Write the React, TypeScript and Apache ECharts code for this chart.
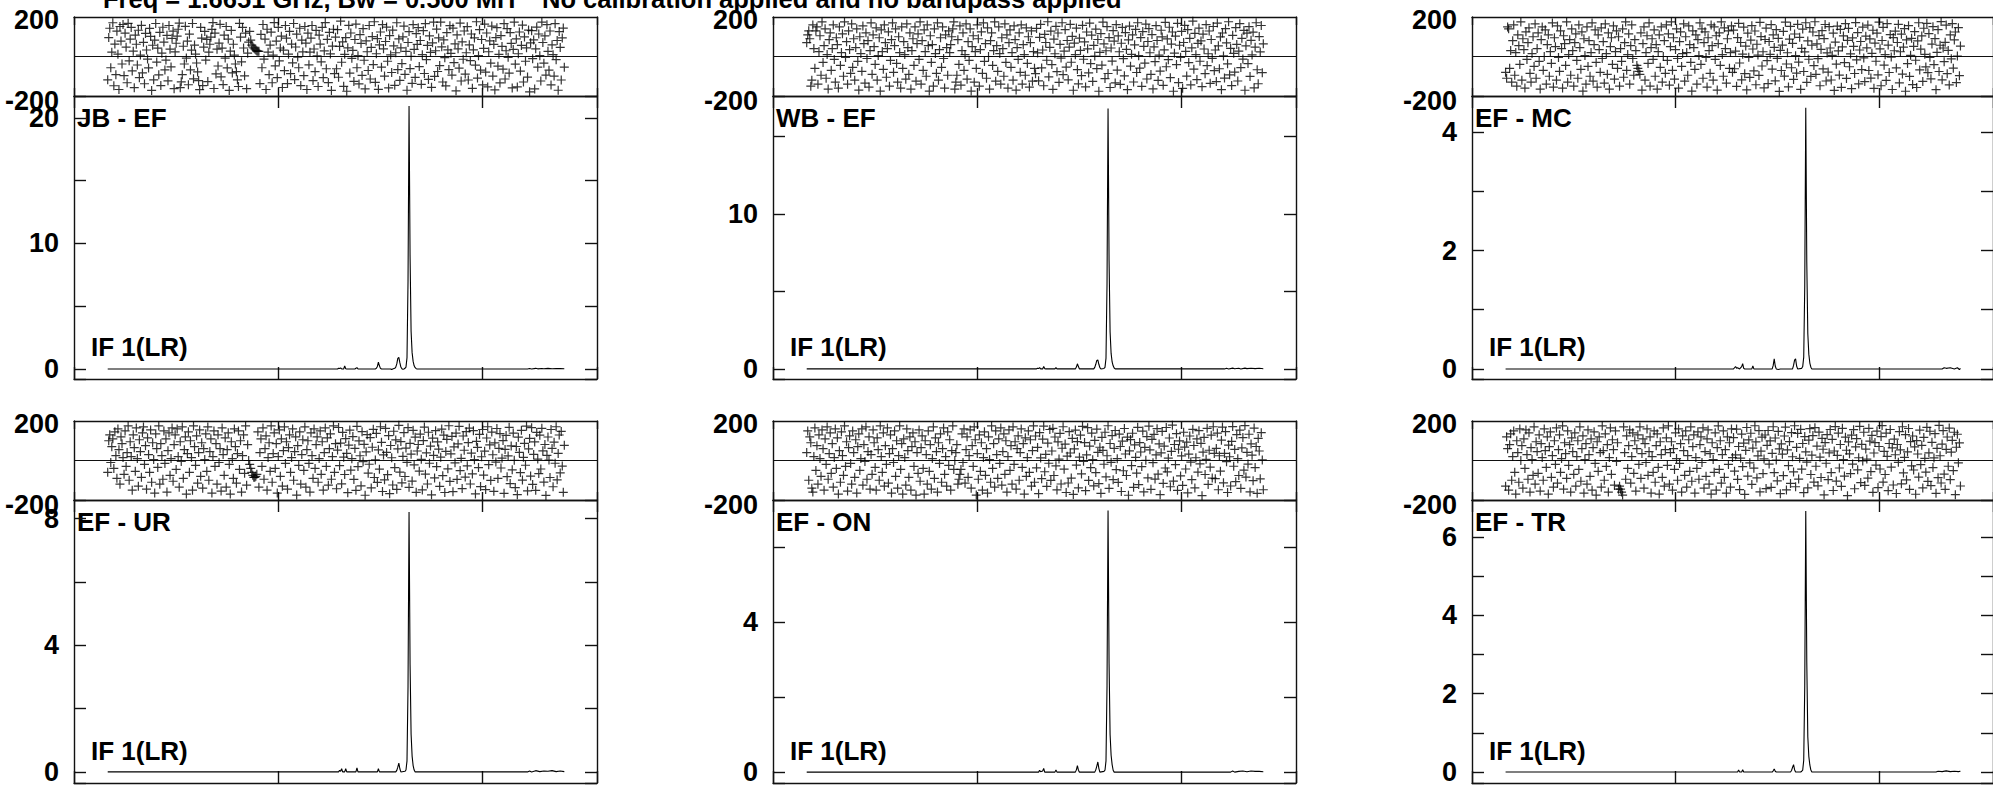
import React, { useEffect, useRef } from 'react';
import * as echarts from 'echarts';

// ---------------- data ----------------
const TITLE_PART1 = 'Freq = 1.6651 GHz, Bw = 0.500 MH';
const TITLE_PART2 = 'No calibration applied and no bandpass applied';
const BASELINES = ['JB - EF', 'WB - EF', 'EF - MC', 'EF - UR', 'EF - ON', 'EF - TR'];
const IF_LABEL = 'IF 1(LR)';
const FIRST_CHANNEL = 33;
const CHANNEL_AXIS = [0, 512];
const CHANNEL_TICK = 200;
const PHASE_AXIS = [-200, 200];
const PHASE_TICK = 200;

// phase (degrees) per channel, channels 33..480
const JB_EF_PHASE = [
  -118, 96, 143, -57, 22, 171, -148, 63, -92, 128, 12, -167, 152, 78, -38, 162,
  -97, 118, 47, -133, 168, -22, 88, 147, -73, 27, -158, 108, 62, -43, 133, -107,
  7, 158, -83, 72, -138, 117, 33, -13, -58, 142, 102, -172, 57, -118, 83, 167,
  -28, 42, -93, 122, -147, 17, 148, 73, -68, -18, 107, -123, 157, 37, -53, 92,
  128, -163, 23, 67, 103, 138, 169, -158, -128, -92, 52, -38, 153, -8, 78, -143,
  113, -68, 32, 167, -113, 58, 12, -33, -78, -122, -168, 147, 93, -147, 47, 127,
  -18, 87, -127, 22, 62, 98, 137, 172, -162, 118, -88, 37, -48, 68, 163, -103,
  42, -142, 108, -8, 152, -58, 88, -172, 27, 132, -83, 62, 7, -38, -77, -118,
  -152, 168, 98, -27, 147, 43, -98, 118, -163, 17, 73, 127, 83, 58, 48, 43,
  38, 33, 28, 27, 26, -137, 112, -57, 162, -13, 88, -167, 138, 22, -92, 58,
  123, -133, 7, 172, -47, 78, -107, 147, -22, 43, 103, -157, 32, -72, 157, 93,
  -137, 12, 127, -87, 63, -32, 167, -117, 48, 113, -3, -57, 143, -147, 83, 23,
  -97, 152, 68, -167, 118, -42, 22, 93, 157, -122, 38, -77, 132, 3, -152, 108,
  63, -27, 147, -107, 28, 172, -62, 87, -132, 122, 13, -172, 53, 138, -87, 98,
  -62, 136, -105, 51, 179, -29, 74, -151, 11, 96, -176, 44, 158, -84, 119, -9,
  31, -126, 86, 164, -57, 4, -139, 111, 66, -96, 141, -19, -164, 79, 24, -71,
  157, -114, 46, 101, -41, 176, -131, 14, 91, -166, 59, 124, -54, 161, 39, -99,
  76, 149, -24, -159, 106, 8, -81, 134, 54, -146, 19, 171, -66, 89, -121, 44,
  -36, 99, 154, -91, 26, -171, 71, 126, -61, 1, -136, 161, 36, -106, 116, 61,
  146, -51, 81, -141, 9, 131, -86, 166, -16, 56, -116, 104, 21, -156, 69, 174,
  -101, 29, 139, -76, 94, -46, 174, 49, -129, 84, -6, -149, 121, 34, -66, 156,
  16, -94, 144, -31, 64, -174, 109, 39, -59, 169, -124, 74, -14, 129, -89, 19,
  151, -119, 59, -21, 114, -161, 34, 94, -44, 176, -109, 4, 136, -69, 86, -144,
  41, 164, -79, 119, -154, 24, 79, -34, 154, -99, 61, -169, 96, 146, -49, 11,
  -134, 106, 51, -64, 166, -114, 29, 141, -4, -84, 121, 66, -159, 36, 174, -39,
  89, -154, 14, 124, -74, 56, 159, -129, 99, -24, 44, -104, 134, -179, 69, 131,
  -11, 84, -164, 39, 149, -54, 114, 4, -124, 174, 71, -34, 104, -94, 161, 26,
  -69, 129, -144, 59, 9, -99, 166, -16, 81, -171, 126, 46, -119, 94, 144, -54,
];
const WB_EF_PHASE = [
  70, 110, 130, 90, -150, -120, 160, 40, -60, 130, 150, -140, 25, 105, -95, 175,
  -30, 55, 140, -110, 10, -165, 85, 120, -70, 40, 160, -15, -130, 95, 60, -160,
  150, -45, 20, 115, -100, 175, -5, 75, -140, 130, 35, -85, 165, -55, 90, -120,
  45, 140, -25, -170, 100, 15, -75, 155, 65, -135, 120, -10, 80, -155, 30, 170,
  -90, 110, 50, -40, 145, -120, 5, 95, -175, 135, 25, -65, 160, 70, -105, 40,
  125, -150, -20, 85, 170, -80, 55, 140, -35, -130, 100, 20, -160, 150, -60, 75,
  10, -115, 165, 45, -90, 120, -165, 30, 90, -45, 150, -125, 65, 115, -15, 175,
  -140, 80, -70, 135, 25, -100, 160, 55, -175, 105, -30, 60, -150, 140, 15, -85,
  170, -120, 35, 95, -55, 150, -10, -160, 110, 45, -95, 130, 20, 60, 100, 140,
  175, -165, -130, -95, 85, -40, 155, -145, 30, 120, -70, 10, 165, -115, 75, -20,
  140, -175, 50, 105, -130, 25, -60, 160, 90, -150, 35, 125, -85, 170, -25, 65,
  -110, 145, 0, -165, 80, 120, -45, 30, 175, -125, 55, -75, 150, 15, -140, 95,
  40, -100, 165, -30, 110, -160, 70, 135, -55, 20, -120, 155, 85, -170, 45, -15,
  120, -80, 160, -140, 60, 10, -95, 145, -35, 100, -155, 70, 130, -125, 25, -60,
  -87, 142, 18, -123, 97, 163, -58, 33, -148, 112, 71, -19, 176, -103, 46, 128,
  -41, -166, 88, 14, 153, -77, 119, -131, 61, -8, 171, -92, 27, 136, -54, 81,
  -118, 47, 163, -29, 102, -171, 68, 9, 144, -66, -139, 93, 31, -97, 158, -14,
  74, -154, 124, 39, -83, 169, -36, 108, -126, 56, 2, 139, -61, 86, -176, 21,
  116, -44, 174, 64, -112, 29, 151, -86, 96, -157, 43, -23, 131, 78, -134, 161,
  -69, 104, 24, -141, 67, 147, -11, -98, 121, 36, -168, 84, 154, -49, 11, 109,
  -129, 59, 137, -81, 171, 4, -59, 96, -151, 126, 51, -34, 164, -114, 76, 141,
  19, -91, 111, -164, 49, -26, 156, 81, -121, 7, -74, 133, 99, -146, 34, 173,
  -52, 89, -16, 148, -107, 63, 124, -176, 17, 103, -41, 168, -132, 57, -4, 127,
  -161, 71, 158, 26, -99, 136, -31, 92, -144, 44, 179, -64, 117, 9, -117, 66,
  144, -24, 79, -153, 113, 38, -87, 161, -46, 14, 129, -136, 86, -9, 152, -72,
  33, -127, 169, 54, -62, 99, -168, 119, 3, -109, 141, 69, -37, 176, -93, 41,
  -147, 107, 16, -79, 146, 61, -124, 27, 166, -56, 92, -13, 132, -171, 54, 118,
  -36, 151, -101, 82, 8, 123, -159, 47, 171, -67, -138, 101, 23, 157, -82, 64,
];
const EF_MC_PHASE = [
  -80, -110, 150, 140, -60, 30, -130, 80, 160, -95, 20, -150, 110, 55, -40, 175,
  -120, 90, 35, -160, 125, -15, 70, 145, -85, -130, 15, 100, -50, 165, -110, 40,
  120, -25, -165, 85, 150, -70, 0, 135, -140, 60, 110, -100, 25, -35, 170, -155,
  95, 50, -120, 155, -5, -75, 130, 40, -160, 105, 65, -45, 175, -130, 10, 85,
  -95, 140, 30, -150, 70, 115, -20, -110, 160, 45, -65, 125, -175, 90, 5, -140,
  150, -50, 80, -100, 20, 170, -125, 60, 135, -30, -155, 110, 35, -80, 145, -10,
  75, -135, 165, 15, -90, 120, -165, 50, 95, -40, 155, -115, 25, 130, -60, 100,
  -150, 40, -25, 140, -105, 70, 175, -70, 10, 115, -140, 55, 160, -10, -95, 85,
  30, -45, -60, -75, -90, 120, -170, 65, 150, -120, 20, 105, -35, 170, -150, 45,
  90, -15, 135, -100, 60, -165, 25, 110, -55, 150, -130, 0, 80, -85, 160, -20,
  115, -145, 50, 175, -70, 95, -115, 35, 140, -10, -160, 75, 125, -50, 15, 165,
  -125, 100, 20, -95, 155, 60, -30, -175, 130, 45, -65, 110, -140, 85, 5, 170,
  -40, 140, -110, 70, 125, -5, -155, 95, 30, -85, 160, 55, -120, 150, -15, 105,
  -170, 65, 120, -45, 175, 10, -100, 145, 40, -135, 90, 130, -60, 20, 155, -80,
  134, -62, 27, -151, 96, 168, -33, 71, -118, 12, 149, -87, 53, -169, 118, -4,
  -106, 83, 156, 38, -73, 129, -143, 62, 7, -96, 173, 101, -48, 24, -159, 86,
  144, -21, -137, 76, 11, 161, -64, 109, 46, -123, 136, -9, 92, -177, 31, -71,
  58, 127, -99, 174, -38, 19, -154, 88, 153, -57, 66, -116, 114, 4, -84, 163,
  -28, 97, -166, 41, 139, -76, 23, 171, -131, 79, -14, 146, -101, 57, 124, -46,
  176, -91, 64, -11, 106, -148, 36, 131, -63, 91, 162, -124, 18, -79, 151, 43,
  -119, 6, 118, -172, 73, -39, 154, 28, -94, 137, -156, 49, 104, -31, 166, -111,
  82, 142, -52, 13, -163, 94, 51, -86, 172, -17, 121, -139, 33, 76, -66, 149,
  -7, -127, 103, 44, 159, -71, 89, -109, 16, 133, -161, 68, -24, 118, -93, 174,
  39, -148, 81, 147, -44, 9, -121, 166, 58, -81, 111, -3, -167, 96, 29, 128,
  -58, 71, 163, -134, 24, 113, -89, 47, 141, -176, 84, -36, 156, -101, 6, 92,
  -142, 51, 126, -19, -157, 79, 171, -68, 37, 104, -126, 143, 11, -53, 168, -82,
  116, -4, -113, 63, 151, -41, 91, -168, 21, 136, -76, 57, 177, -118, 43, -26,
  72, 159, -87, 31, -144, 109, -12, 166, -59, 84, 124, -132, 2, 146, -97, 53,
];
const EF_UR_PHASE = [
  -60, 100, 130, -10, 70, 110, -40, 145, 25, -90, 160, 55, -120, 120, 85, 15,
  -70, 150, -30, 40, 175, -100, 95, 20, -150, 130, 65, -55, 165, 10, -130, 105,
  45, -85, 140, 170, -20, 75, -145, 115, 30, -60, 155, -110, 90, 5, -165, 135,
  60, -35, 175, -120, 85, 25, -95, 150, -15, 110, -160, 50, 140, -75, 10, 165,
  -105, 80, 130, -45, 160, 20, -135, 95, -5, 170, -90, 55, 120, -170, 35, 145,
  -60, 100, 15, -150, 175, 70, -25, 125, -115, 40, 155, -80, 90, -140, 60, 5,
  135, -55, 170, -100, 45, 110, -165, 20, 150, -30, 85, -120, 130, -10, 60, -155,
  165, 30, -75, 115, -135, 55, 140, -20, -170, 95, 10, -90, 160, 70, -115, 35,
  150, -45, 100, -160, 25, 130, -65, 175, -125, 80, 0, -20, -40, -60, -75, -85,
  -85, -80, -70, 145, -135, 40, 110, -30, 165, -95, 60, 125, -150, 15, 90, -55,
  175, -110, 35, 140, -40, 85, -165, 20, 155, -80, 110, -130, 50, 170, -15, 95,
  -145, 65, 130, -60, 15, 160, -100, 45, 120, -175, 75, -25, 145, -120, 30, 105,
  -50, 170, -135, 55, 100, -15, -160, 140, 25, -90, 160, -40, 80, 120, -110, 10,
  150, -70, 95, -150, 40, 165, -30, 115, -125, 60, 135, -95, 20, 175, -60, 85,
  -143, 53, 167, -26, 88, -118, 142, 17, -71, 111, 36, -163, 78, 154, -49, 9,
  121, -96, 61, -151, 173, -31, 99, 24, -128, 146, -6, 82, -176, 44, 131, -64,
  -19, 116, -139, 67, 158, -86, 3, 137, -111, 54, -44, 171, 92, -157, 28, -98,
  163, 41, -72, 126, -168, 76, 14, -124, 148, -36, 104, -146, 59, 178, -59, 96,
  -113, 21, 141, -81, 63, -9, 166, -136, 87, 32, -104, 153, -22, 118, -161, 48,
  81, -54, 134, 6, -149, 101, 169, -69, 39, -119, 143, -14, 73, -174, 113, 26,
  -88, 151, -31, 94, 58, -131, 17, 159, -77, 128, -162, 46, 107, -42, 176, -106,
  34, 122, -158, 69, -12, 139, -96, 84, 173, -51, 11, -142, 124, 52, -84, 146,
  -27, 91, 164, -119, 37, -68, 151, 4, -169, 97, 66, -36, 132, -132, 19, 157,
  -74, 47, -147, 114, 171, -21, 79, -101, 144, 29, -156, 89, -8, 162, -91, 61,
  136, -38, 12, 101, -166, 56, 127, -82, 23, 168, -117, 74, -47, 139, 1, -137,
  71, -173, 118, 41, -61, 153, -99, 16, 87, -24, 174, -154, 59, 112, -79, 166,
  -121, 31, 94, -151, 142, 7, -66, 128, -43, 163, 49, -109, 81, -177, 26, 119,
  2, -86, 157, 61, -133, 93, -14, 171, -98, 36, 129, -63, 147, -28, -161, 77,
];
const EF_ON_PHASE = [
  40, 150, -100, 120, 90, -140, -160, 20, 165, -50, 75, -120, 130, 10, -80, 155,
  60, -150, 110, -20, 170, -95, 35, 140, -65, 85, -135, 15, 160, -40, 115, -170,
  50, -110, 145, 25, -75, 175, -30, 95, -155, 65, 125, -15, -120, 150, 40, -85,
  105, -165, 70, 135, -50, 10, 160, -125, 80, -5, 170, -95, 45, 120, -145, 30,
  -70, 155, 90, -35, -150, 115, 55, -100, 175, 20, -60, 140, -130, 75, -20, 165,
  -115, 35, 130, -165, 60, -10, 150, -80, 100, -140, 25, 175, -45, 85, -170, 110,
  15, -125, 160, 50, -85, 120, -150, 70, 140, -30, 95, -175, 40, -65, 155, -105,
  65, 125, -40, -170, 100, 30, -120, 150, -55, 80, -145, 10, 170, -90, 115, 45,
  -160, 90, -15, 135, -110, 60, 165, -70, 20, -130, 145, -25, 105, -150, 50, 175,
  -45, 0, 40, 80, -120, -95, -70, -45, 135, -10, 160, -115, 55, 120, -85, 25,
  155, -140, 75, -30, 170, 105, -175, 35, -95, 130, -55, 90, -150, 15, 145, -75,
  60, -165, 120, 5, -110, 175, -40, 85, -135, 150, 30, -90, 110, -15, 165, -125,
  45, 135, -70, 100, -160, 20, 155, -50, 75, -120, 170, -20, 95, -145, 60, 125,
  -100, 40, 160, -35, 85, -170, 115, -80, 15, 150, -60, 105, -130, 50, 175, -110,
  124, -37, 66, -168, 141, 13, -92, 108, 174, -57, 31, -131, 88, -14, 157, -101,
  48, 163, -76, 119, -27, -149, 94, 7, 137, -119, 62, 171, -44, 83, -162, 22,
  -114, 146, 38, -89, 112, -172, 59, 154, -23, 96, -139, 17, 128, -68, 173, -4,
  91, -153, 28, 166, -101, 73, -36, 139, 4, -128, 102, -61, 159, 41, -117, 67,
  -166, 117, 51, -19, 143, -83, 24, 176, -141, 86, -9, 126, -97, 61, 152, -46,
  9, -111, 134, 71, -157, 98, -52, 162, 33, -76, 118, -176, 49, 106, -26, 138,
  -136, 79, 16, -64, 168, -122, 91, 43, -31, 149, -159, 66, 1, 121, -88, 174,
  54, -146, 107, -11, 132, -94, 28, 161, -69, 84, -173, 39, 147, -116, 73, -38,
  167, -58, 12, 114, -133, 46, 179, -104, 81, -21, 136, -151, 57, 99, -78, 23,
  -126, 143, 68, -43, 93, -164, 32, 124, -8, -97, 158, 76, -139, 14, 109, -59,
  151, -17, 87, -178, 42, 117, -71, 6, 163, -121, 52, -34, 128, -89, 171, 36,
  -92, 61, 139, -148, 24, -54, 103, 169, -113, 36, 146, -6, -162, 78, 19, -129,
  97, 172, -29, 56, -107, 131, 9, -76, 154, -141, 64, 116, -49, 177, -84, 41,
  -18, 133, -159, 84, 27, -102, 164, -36, 71, -166, 112, 48, -93, 141, 3, -148,
];
const EF_TR_PHASE = [
  -130, 120, 60, -150, 80, 135, -100, 20, 150, -60, -170, 100, 40, -110, 160, 0,
  75, -140, 110, -40, 155, 30, -95, 140, -160, 65, 5, -75, 170, -120, 95, 45,
  -65, 130, -155, 85, 15, -100, 160, 50, -35, 120, -170, 70, 145, -85, 25, -135,
  100, -20, 165, -115, 55, 130, -60, 10, 175, -145, 90, 35, -90, 150, -25, 80,
  -160, 115, 45, -70, 140, -130, 20, 100, -45, 170, -105, 60, 125, -165, 5, 85,
  -120, 155, 30, -80, 110, -150, 65, 145, -15, -175, 95, -55, 120, 40, -135, 175,
  50, -100, 135, -30, 80, -160, 15, 165, -70, 105, 55, -125, 150, -5, 90, -145,
  -130, -145, -160, -175, 170, 40, -95, 125, -40, 75, 155, -115, 20, 140, -65, 100,
  -155, 60, 130, -20, 170, -90, 35, 110, -140, 85, -10, 160, -75, 45, 120, -165,
  20, -60, 150, -110, 75, 135, -35, -170, 95, 30, -85, 165, -130, 55, 115, -25,
  175, -120, 40, 95, -150, 60, -45, 140, 10, -100, 160, -15, 85, -160, 125, 50,
  -75, 150, -135, 25, 105, -55, 170, -105, 70, 130, -165, 15, -40, 145, -95, 80,
  120, -10, 165, -140, 45, -80, 110, 155, -120, 35, -170, 90, 5, -60, 140, -150,
  65, 175, -45, 100, -115, 30, 150, -85, 55, -165, 120, -20, 90, -135, 160, 15,
  116, -54, 28, 159, -96, 71, -147, 12, 134, -31, 88, -172, 51, 167, -79, 104,
  -12, 138, -121, 63, -39, 176, 94, -88, 23, 151, -159, 47, 118, -66, 8, 129,
  -142, 77, 152, -18, 99, -136, 36, 171, -61, 114, 2, -103, 147, 59, -168, 84,
  32, -77, 124, 169, -149, 54, -26, 96, -116, 141, 19, -58, 176, -133, 66, 137,
  -94, 11, 158, -44, 86, -163, 121, 44, -8, -139, 103, 161, -71, 27, 126, -109,
  166, -29, 73, -128, 144, 17, -86, 112, 57, -174, 91, -14, 131, -97, 39, 157,
  -61, 107, -152, 48, 172, -104, 26, 139, -38, 81, -131, 163, 4, -79, 118, 52,
  -178, 94, 34, -66, 128, -18, 156, -143, 69, 111, -47, 14, 173, -112, 82, -2,
  143, -126, 58, 7, -89, 163, 98, -56, 127, -161, 38, 91, -23, 149, -137, 71,
  -43, 121, 177, -109, 46, -71, 139, 21, -153, 86, 157, -34, 64, -124, 108, 29,
  -167, 81, -9, 146, 54, -118, 171, -63, 16, 131, -98, 44, 162, -146, 96, -27,
  124, -48, 69, -171, 101, 33, -84, 154, -21, 77, -139, 117, 11, -59, 168, -106,
  39, 148, -127, 92, -36, 13, 136, -166, 61, -87, 178, 24, -114, 83, 151, -69,
  -146, 56, 119, -29, 164, -97, 42, 102, -51, 143, -173, 67, 133, -12, 89, -129,
];

// amplitude spectra as [channel, amplitude]
const JB_EF_AMP = [
  [33, 0], [258, 0], [259, 0.06], [260, 0.03], [261, 0.08], [262, 0], [264, 0], [265, 0.25], [266, 0.02], [267, 0],
  [275, 0], [276, 0.05], [277, 0.1], [278, 0], [295, 0], [296, 0.05], [297, 0.2], [298, 0.55], [299, 0.25], [300, 0.05],
  [301, 0], [310, 0], [311, -0.05], [312, 0], [314, 0.05], [315, 0.15], [316, 0.4], [317, 0.85], [318, 0.93], [319, 0.5],
  [320, 0.15], [321, 0.02], [322, -0.03], [323, 0], [324, 0.05], [325, 0.15], [326, 0.9], [327, 7], [328, 20.95], [329, 9],
  [330, 3], [331, 1.3], [332, 0.6], [333, 0.25], [334, 0.1], [335, 0.02], [336, 0], [444, 0], [446, 0.04], [448, 0],
  [452, 0.05], [454, 0.01], [458, 0.04], [460, 0.02], [464, 0.05], [468, 0.02], [472, 0.04], [476, 0.03], [480, 0.02],
];
const WB_EF_AMP = [
  [33, 0], [258, 0], [259, 0.05], [260, 0.02], [261, 0.08], [262, 0], [264, 0], [265, 0.15], [266, 0.02], [267, 0],
  [276, 0], [277, 0.08], [278, 0], [296, 0], [297, 0.12], [298, 0.33], [299, 0.15], [300, 0], [314, 0], [315, 0.1],
  [316, 0.3], [317, 0.55], [318, 0.58], [319, 0.3], [320, 0.08], [321, 0], [324, 0.03], [325, 0.1], [326, 0.7], [327, 5.5],
  [328, 16.8], [329, 7], [330, 2.4], [331, 1.0], [332, 0.45], [333, 0.2], [334, 0.06], [335, 0], [442, 0], [444, 0.04],
  [446, 0], [450, 0.05], [452, 0.01], [456, 0.04], [458, 0], [462, 0.05], [464, 0.02], [468, 0.04], [472, 0.02], [476, 0.04], [480, 0.01],
];
const EF_MC_AMP = [
  [33, 0], [257, 0], [258, 0.02], [259, 0.04], [260, 0.01], [261, 0.02], [263, 0], [265, 0.04], [266, 0.09], [267, 0.01],
  [268, 0], [275, 0], [276, 0.05], [277, 0], [295, 0], [296, 0.06], [297, 0.17], [298, 0.05], [299, 0], [301, -0.01],
  [303, 0], [315, 0], [316, 0.06], [317, 0.15], [318, 0.17], [319, 0.05], [320, 0], [324, 0.01], [325, 0.04], [326, 0.2],
  [327, 1.4], [328, 4.41], [329, 1.8], [330, 0.6], [331, 0.25], [332, 0.1], [333, 0.03], [334, 0], [462, 0], [464, 0.02],
  [466, 0.01], [470, 0.02], [474, 0], [477, 0.02], [479, -0.01], [480, 0.01],
];
const EF_UR_AMP = [
  [33, 0], [259, 0], [260, 0.05], [261, 0.02], [262, 0.1], [263, 0], [265, 0], [266, 0.1], [267, 0], [276, 0],
  [277, 0.13], [278, 0], [297, 0], [298, 0.1], [299, 0], [315, 0], [316, 0.05], [317, 0.15], [318, 0.28], [319, 0.1],
  [320, 0], [324, 0.02], [325, 0.06], [326, 0.35], [327, 2.7], [328, 8.21], [329, 3.4], [330, 1.2], [331, 0.5], [332, 0.2],
  [333, 0.06], [334, 0], [444, 0], [446, 0.03], [448, 0], [452, 0.04], [456, 0.01], [460, 0.03], [464, 0.02], [468, 0.04],
  [472, 0.01], [476, 0.03], [480, 0.01],
];
const EF_ON_AMP = [
  [33, 0], [260, 0], [261, 0.05], [262, 0.01], [264, 0.03], [265, 0.1], [266, 0], [276, 0], [277, 0.06], [278, 0],
  [296, 0], [297, 0.06], [298, 0.17], [299, 0.05], [300, 0], [315, 0], [316, 0.06], [317, 0.16], [318, 0.27], [319, 0.1],
  [320, 0], [324, 0.02], [325, 0.05], [326, 0.3], [327, 2.3], [328, 6.97], [329, 2.9], [330, 1.0], [331, 0.45], [332, 0.2],
  [333, 0.05], [334, 0], [448, 0], [450, 0.03], [452, 0], [456, 0.02], [460, 0.03], [464, 0.01], [468, 0.03], [472, 0.02],
  [476, 0.02], [480, 0.01],
];
const EF_TR_AMP = [
  [33, 0], [261, 0], [262, 0.05], [263, 0], [265, 0], [266, 0.06], [267, 0], [295, 0], [296, 0.03], [297, 0.08],
  [298, 0.02], [299, 0], [313, 0], [314, 0.04], [315, 0.12], [316, 0.19], [317, 0.06], [318, 0], [323, 0], [324, 0.02],
  [325, 0.05], [326, 0.3], [327, 2.2], [328, 6.66], [329, 2.8], [330, 0.9], [331, 0.4], [332, 0.18], [333, 0.05], [334, 0],
  [456, 0], [458, 0.02], [462, 0.01], [466, 0.03], [470, 0.01], [474, 0.02], [478, 0.01], [480, 0.02],
];

const PHASES = [JB_EF_PHASE, WB_EF_PHASE, EF_MC_PHASE, EF_UR_PHASE, EF_ON_PHASE, EF_TR_PHASE];
const AMPS = [JB_EF_AMP, WB_EF_AMP, EF_MC_AMP, EF_UR_AMP, EF_ON_AMP, EF_TR_AMP];
const AMP_MIN = [-0.8, -0.65, -0.17, -0.35, -0.29, -0.28];
const AMP_MAX = [21.75, 17.6, 4.61, 8.59, 7.25, 6.94];
const AMP_TICK_STEP = [5, 5, 1, 2, 2, 1];
const AMP_LABEL_STEP = [10, 10, 2, 4, 4, 2];

// ---------------- layout ----------------
const COL_LEFT = [74, 773, 1472];
const PANEL_W = 523;
const PHASE_TOP = [17, 421];
const PHASE_H = 79;
const AMP_TOP = [96, 500];
const AMP_H = 283;
const FONT = '"Liberation Sans", Arial, Helvetica, sans-serif';
const FRAME = { color: '#111', width: 1.4 };
const PLUS = 'path://M5,0L5,10M0,5L10,5';

function xAxisCfg(gridIndex: number, position: string, tickLen: number) {
  return {
    type: 'value', gridIndex, position,
    min: CHANNEL_AXIS[0], max: CHANNEL_AXIS[1], interval: CHANNEL_TICK,
    axisLine: { show: true, onZero: false, lineStyle: FRAME },
    axisTick: { show: true, inside: true, length: tickLen, lineStyle: FRAME },
    axisLabel: { show: false },
    splitLine: { show: false },
  };
}

function labelStyle() {
  return { fontSize: 27, fontWeight: 'bold', fontFamily: FONT, color: '#000' };
}

function textStyle(text: string, size: number) {
  return {
    text, fill: '#000', font: `bold ${size}px ${FONT}`,
    textAlign: 'left', textVerticalAlign: 'middle', align: 'left', verticalAlign: 'middle',
  };
}

function buildOption() {
  const grid: any[] = [];
  const xAxis: any[] = [];
  const yAxis: any[] = [];
  const series: any[] = [];
  const graphic: any[] = [];

  for (let i = 0; i < 6; i++) {
    const c = i % 3;
    const r = Math.floor(i / 3);
    const left = COL_LEFT[c];
    const gP = 2 * i;
    const gA = 2 * i + 1;
    grid.push({ left, top: PHASE_TOP[r], width: PANEL_W, height: PHASE_H, containLabel: false });
    grid.push({ left, top: AMP_TOP[r], width: PANEL_W, height: AMP_H, containLabel: false });

    xAxis.push(xAxisCfg(gP, 'bottom', 8));
    xAxis.push(xAxisCfg(gP, 'top', 8));
    for (const pos of ['left', 'right']) {
      yAxis.push({
        type: 'value', gridIndex: gP, position: pos,
        min: PHASE_AXIS[0], max: PHASE_AXIS[1], interval: PHASE_TICK,
        axisLine: { show: true, onZero: false, lineStyle: FRAME },
        axisTick: { show: false },
        axisLabel: {
          show: pos === 'left', margin: 15, ...labelStyle(),
          formatter: (v: number) => (v === 0 ? '' : v < 0 ? `{lo|${v}}` : `{hi|${v}}`),
          rich: {
            hi: { ...labelStyle(), padding: [6, 0, 0, 0] },
            lo: { ...labelStyle(), padding: [10, 0, 0, 0] },
          },
        },
        splitLine: { show: pos === 'left', lineStyle: { color: '#111', width: 1.2 } },
      });
    }
    xAxis.push(xAxisCfg(gA, 'bottom', 12));
    xAxis.push(xAxisCfg(gA, 'top', 12));
    const step = AMP_TICK_STEP[i];
    const lstep = AMP_LABEL_STEP[i];
    for (const pos of ['left', 'right']) {
      yAxis.push({
        type: 'value', gridIndex: gA, position: pos,
        min: AMP_MIN[i], max: AMP_MAX[i], minInterval: step, maxInterval: step, splitNumber: 5,
        axisLine: { show: true, onZero: false, lineStyle: FRAME },
        axisTick: { show: true, inside: true, length: 12, lineStyle: FRAME },
        axisLabel: {
          show: pos === 'left', margin: 15, ...labelStyle(),
          showMinLabel: true, showMaxLabel: true,
          formatter: (v: number) => {
            if (v < -1e-9) return '';
            const q = v / lstep;
            return Math.abs(q - Math.round(q)) < 1e-6 ? String(Math.round(v)) : '';
          },
        },
        splitLine: { show: false },
      });
    }

    series.push({
      type: 'scatter', xAxisIndex: 2 * gP, yAxisIndex: 2 * gP, silent: true,
      symbol: PLUS, symbolSize: 9,
      itemStyle: { color: 'rgba(0,0,0,0)', borderColor: '#000', borderWidth: 1.2 },
      data: PHASES[i].map((p, k) => [FIRST_CHANNEL + k, p]),
    });
    series.push({
      type: 'line', xAxisIndex: 2 * gA, yAxisIndex: 2 * gA, silent: true,
      showSymbol: false, symbol: 'none',
      lineStyle: { color: '#000', width: 1.1 },
      data: AMPS[i],
    });

    graphic.push({ type: 'text', x: left + 3, y: AMP_TOP[r] + 22, style: textStyle(BASELINES[i], 26) });
    graphic.push({ type: 'text', x: left + 17, y: AMP_TOP[r] + 251, style: textStyle(IF_LABEL, 26) });
  }

  graphic.push({ type: 'text', x: 103, y: -1.5, style: textStyle(TITLE_PART1, 25.5) });
  graphic.push({ type: 'text', x: 542, y: -1.5, style: textStyle(TITLE_PART2, 25.5) });

  return {
    animation: false,
    backgroundColor: '#ffffff',
    grid, xAxis, yAxis, series, graphic,
  };
}

export default function App() {
  const ref = useRef<HTMLDivElement>(null);
  useEffect(() => {
    const chart = echarts.init(ref.current as HTMLDivElement, null, { renderer: 'svg', width: 1993, height: 786 });
    chart.setOption(buildOption() as any);
    return () => chart.dispose();
  }, []);
  return (
    <div
      ref={ref}
      style={{ position: 'absolute', left: 0, top: 0, width: 1993, height: 786, background: '#fff' }}
    />
  );
}
